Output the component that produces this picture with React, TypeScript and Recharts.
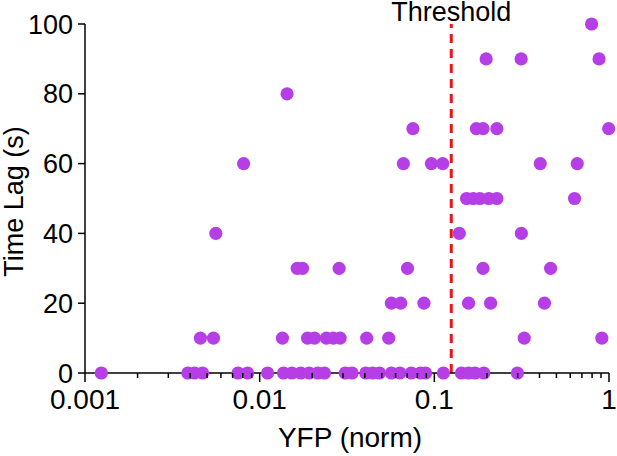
import {
  ReferenceLine,
  Scatter,
  ScatterChart,
  XAxis,
  YAxis,
} from "recharts"

// YFP (norm) values, one list per time-lag row
const LAG_LEVELS = [0, 10, 20, 30, 40, 50, 60, 70, 80, 90, 100]
const YFP_AT_0 = [
  0.00124, 0.00388, 0.00424, 0.00471, 0.00752, 0.00853, 0.0111, 0.0137, 0.0153,
  0.0172, 0.0192, 0.0215, 0.0235, 0.0309, 0.0338, 0.0405, 0.0443, 0.0485, 0.0568,
  0.0635, 0.0738, 0.0834, 0.0891, 0.1127, 0.143, 0.157, 0.171, 0.192, 0.299,
]
const YFP_AT_10 = [
  0.00458, 0.00544, 0.0135, 0.0188, 0.0206, 0.0241, 0.0264, 0.0289, 0.041, 0.0548,
  0.327, 0.91,
]
const YFP_AT_20 = [0.0568, 0.0642, 0.0872, 0.157, 0.21, 0.427]
const YFP_AT_30 = [0.0164, 0.0176, 0.0285, 0.0702, 0.19, 0.463]
const YFP_AT_40 = [0.00561, 0.139, 0.315]
const YFP_AT_50 = [0.153, 0.167, 0.182, 0.205, 0.228, 0.635]
const YFP_AT_60 = [0.00809, 0.0665, 0.0962, 0.1117, 0.404, 0.658]
const YFP_AT_70 = [0.0754, 0.174, 0.19, 0.228, 0.996]
const YFP_AT_80 = [0.01435]
const YFP_AT_90 = [0.198, 0.314, 0.877]
const YFP_AT_100 = [0.795]

const THRESHOLD = 0.125

const X_MAJOR_TICKS = [0.001, 0.01, 0.1, 1]
const X_MINOR_TICKS = [
  0.002, 0.003, 0.004, 0.005, 0.006, 0.007, 0.008, 0.009,
  0.02, 0.03, 0.04, 0.05, 0.06, 0.07, 0.08, 0.09,
  0.2, 0.3, 0.4, 0.5, 0.6, 0.7, 0.8, 0.9,
]
const Y_TICKS = [0, 20, 40, 60, 80, 100]

const ROWS = [
  YFP_AT_0, YFP_AT_10, YFP_AT_20, YFP_AT_30, YFP_AT_40, YFP_AT_50,
  YFP_AT_60, YFP_AT_70, YFP_AT_80, YFP_AT_90, YFP_AT_100,
]
const points = ROWS.flatMap((xs, i) => xs.map((x) => ({ x, y: LAG_LEVELS[i] })))

const FONT = "'Liberation Sans', Arial, sans-serif"
const PURPLE = "#b63ee6"
const RED = "#e8151b"

function XTick({ x, y, payload }: any) {
  const major = X_MAJOR_TICKS.includes(payload.value)
  return (
    <g>
      <line x1={x} x2={x} y1={y} y2={y + (major ? 9 : 5)} stroke="#000" strokeWidth={1.5} />
      {major ? (
        <text x={x} y={y + 36} textAnchor="middle" fontSize={28} fontFamily={FONT} fill="#000">
          {String(payload.value)}
        </text>
      ) : null}
    </g>
  )
}

export default function App() {
  return (
    <div style={{ position: "absolute", left: 0, top: 0, fontFamily: FONT }}>
      <ScatterChart
        width={617}
        height={456}
        margin={{ top: 24, right: 8, bottom: 0, left: 0 }}
      >
        <XAxis
          type="number"
          dataKey="x"
          scale="log"
          domain={[0.001, 1]}
          ticks={[...X_MAJOR_TICKS, ...X_MINOR_TICKS]}
          interval={0}
          height={83}
          tickSize={0}
          tickMargin={0}
          tickLine={false}
          tick={<XTick />}
          axisLine={{ stroke: "#000", strokeWidth: 1.5 }}
          label={{
            content: ({ viewBox }: any) => (
              <text
                x={viewBox.x + viewBox.width / 2 + 3}
                y={viewBox.y + 74}
                textAnchor="middle"
                fontSize={28}
                fontFamily={FONT}
                fill="#000"
              >
                YFP (norm)
              </text>
            ),
          }}
        />
        <YAxis
          type="number"
          dataKey="y"
          domain={[0, 100]}
          ticks={Y_TICKS}
          interval={0}
          width={85}
          tickSize={7}
          tickMargin={5}
          tick={{ fontSize: 27, fontFamily: FONT, fill: "#000" }}
          tickLine={{ stroke: "#000", strokeWidth: 1.5 }}
          axisLine={{ stroke: "#000", strokeWidth: 1.5 }}
          label={{
            content: ({ viewBox }: any) => {
              const cx = 23
              const cy = viewBox.y + viewBox.height / 2 + 3
              return (
                <text
                  x={cx}
                  y={cy}
                  transform={`rotate(-90 ${cx} ${cy})`}
                  textAnchor="middle"
                  fontSize={27}
                  fontFamily={FONT}
                  fill="#000"
                >
                  Time Lag (s)
                </text>
              )
            },
          }}
        />
        <ReferenceLine
          x={THRESHOLD}
          stroke={RED}
          strokeWidth={3}
          strokeDasharray="9 6"
          label={{
            value: "Threshold",
            position: "top",
            offset: 3,
            fontSize: 27,
            fontFamily: FONT,
            fill: "#000",
          }}
        />
        <Scatter
          data={points}
          isAnimationActive={false}
          shape={(p: any) => <circle cx={p.cx} cy={p.cy} r={6.6} fill={PURPLE} />}
        />
      </ScatterChart>
    </div>
  )
}
